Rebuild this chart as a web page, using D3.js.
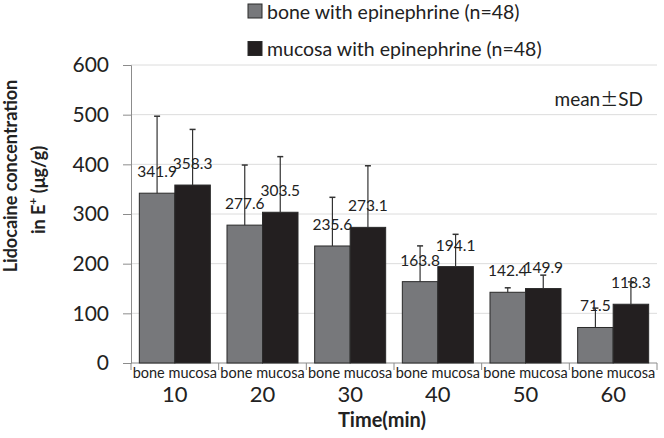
<!DOCTYPE html>
<html><head><meta charset="utf-8">
<script src="https://cdn.jsdelivr.net/npm/d3@7"></script>
<style>body{margin:0;background:#fff}svg{display:block}text{font-family:Lato,"Noto Sans",sans-serif}</style>
</head><body><svg id="c" width="664" height="438"></svg>
<script>
const times = ["10","20","30","40","50","60"];
const seriesNames = ["bone with epinephrine (n=48)","mucosa with epinephrine (n=48)"];
const subLabel = "bone mucosa";
const boneMean = [341.9,277.6,235.6,163.8,142.4,71.5];
const boneSD = [155,121,98,72,9,39];
const mucosaMean = [358.3,303.5,273.1,194.1,149.9,118.3];
const mucosaSD = [112,112,124,65,27,45];
const yTicks = [0,100,200,300,400,500,600];
const colors = ["#77787b","#231f20"];

const svg = d3.select("#c");
const L=131,R=657,T=65,B=363;
const y = d3.scaleLinear().domain([0,600]).range([B,T]);
const x = d3.scaleBand().domain(times).range([L,R]).paddingInner(0.19).paddingOuter(0.095);
const xs = d3.scaleBand().domain([0,1]).range([0,x.bandwidth()]).padding(0);
const step = x.step();

// gridlines
svg.append("g").selectAll("line").data(yTicks.filter(d=>d>0)).join("line")
  .attr("x1",L).attr("x2",R).attr("y1",d=>y(d)).attr("y2",d=>y(d))
  .attr("stroke","#dcdcdc").attr("stroke-width",1);

// y axis
const ya = svg.append("g").attr("transform",`translate(${L},0)`)
  .call(d3.axisLeft(y).tickValues(yTicks).tickSize(8).tickPadding(14));
ya.select(".domain").attr("stroke","#8c8c8c");
ya.selectAll(".tick line").attr("stroke","#8c8c8c");
ya.selectAll(".tick text").attr("font-size",21).attr("fill","#222").attr("font-family","Lato");

// x axis line and separators
svg.append("line").attr("x1",L).attr("x2",R).attr("y1",B).attr("y2",B).attr("stroke","#8c8c8c");
const seps = times.map((t,i)=>L+i*step).concat([R]);
svg.append("g").selectAll("line").data(seps).join("line")
  .attr("x1",d=>d).attr("x2",d=>d).attr("y1",B).attr("y2",B+7).attr("stroke","#8c8c8c");

const data = [];
times.forEach((t,i)=>{
  data.push({t,s:0,m:boneMean[i],sd:boneSD[i]});
  data.push({t,s:1,m:mucosaMean[i],sd:mucosaSD[i]});
});
const g = svg.append("g");
// bars
g.selectAll("rect").data(data).join("rect")
  .attr("x",d=>x(d.t)+xs(d.s)).attr("width",xs.bandwidth())
  .attr("y",d=>y(d.m)).attr("height",d=>B-y(d.m))
  .attr("fill",d=>colors[d.s]).attr("stroke","#2a2a2a").attr("stroke-width",1);
// error bars
const cx = d=>x(d.t)+xs(d.s)+xs.bandwidth()/2;
g.selectAll("line.eb").data(data).join("line").attr("class","eb")
  .attr("x1",cx).attr("x2",cx).attr("y1",d=>y(d.m)).attr("y2",d=>y(d.m+d.sd))
  .attr("stroke","#333").attr("stroke-width",1.2);
g.selectAll("line.cap").data(data).join("line").attr("class","cap")
  .attr("x1",d=>cx(d)-3).attr("x2",d=>cx(d)+3).attr("y1",d=>y(d.m+d.sd)).attr("y2",d=>y(d.m+d.sd))
  .attr("stroke","#333").attr("stroke-width",1.5);
// value labels
g.selectAll("text.val").data(data).join("text").attr("class","val")
  .attr("x",cx).attr("y",d=>y(d.m)-16).attr("text-anchor","middle")
  .attr("font-size",15.5).attr("fill","#222").text(d=>d.m.toFixed(1));
// sub labels
g.selectAll("text.sub").data(times).join("text").attr("class","sub")
  .attr("x",d=>x(d)+x.bandwidth()/2).attr("y",B+15).attr("text-anchor","middle")
  .attr("font-size",14.5).attr("fill","#222").text(subLabel);
// category labels
svg.append("g").selectAll("text").data(times).join("text")
  .attr("x",d=>x(d)+x.bandwidth()/2).attr("y",B+39).attr("text-anchor","middle")
  .attr("font-size",22).attr("fill","#222").text(d=>d);

// axis titles
svg.append("text").attr("x",382).attr("y",427).attr("text-anchor","middle")
  .attr("font-size",20).attr("font-weight","bold").attr("fill","#222").text("Time(min)");
const yt = svg.append("text").attr("transform","rotate(-90)").attr("text-anchor","middle")
  .attr("font-size",18).attr("font-weight","bold").attr("fill","#222");
yt.append("tspan").attr("x",-176).attr("y",17).text("Lidocaine concentration");
const t2 = yt.append("tspan").attr("x",-190).attr("y",45);
t2.append("tspan").text("in E");
t2.append("tspan").attr("dy",-8).attr("font-size",12).text("+");
t2.append("tspan").attr("dy",8).text(" (μg/g)");

// mean±SD
const ms = svg.append("text").attr("x",643).attr("y",106).attr("text-anchor","end")
  .attr("font-size",19).attr("fill","#222");
ms.append("tspan").text("mean");
ms.append("tspan").attr("font-family","Noto Sans CJK JP").attr("font-size",18).text("±");
ms.append("tspan").text("SD");

// legend
const lg = svg.append("g").selectAll("g").data(seriesNames).join("g")
  .attr("transform",(d,i)=>`translate(248,${4+i*37.5})`);
lg.append("rect").attr("width",14).attr("height",14).attr("fill",(d,i)=>colors[i]).attr("stroke","#2a2a2a");
lg.append("text").attr("x",19).attr("y",14.5).attr("font-size",19.5).attr("fill","#222").text(d=>d);
</script></body></html>
